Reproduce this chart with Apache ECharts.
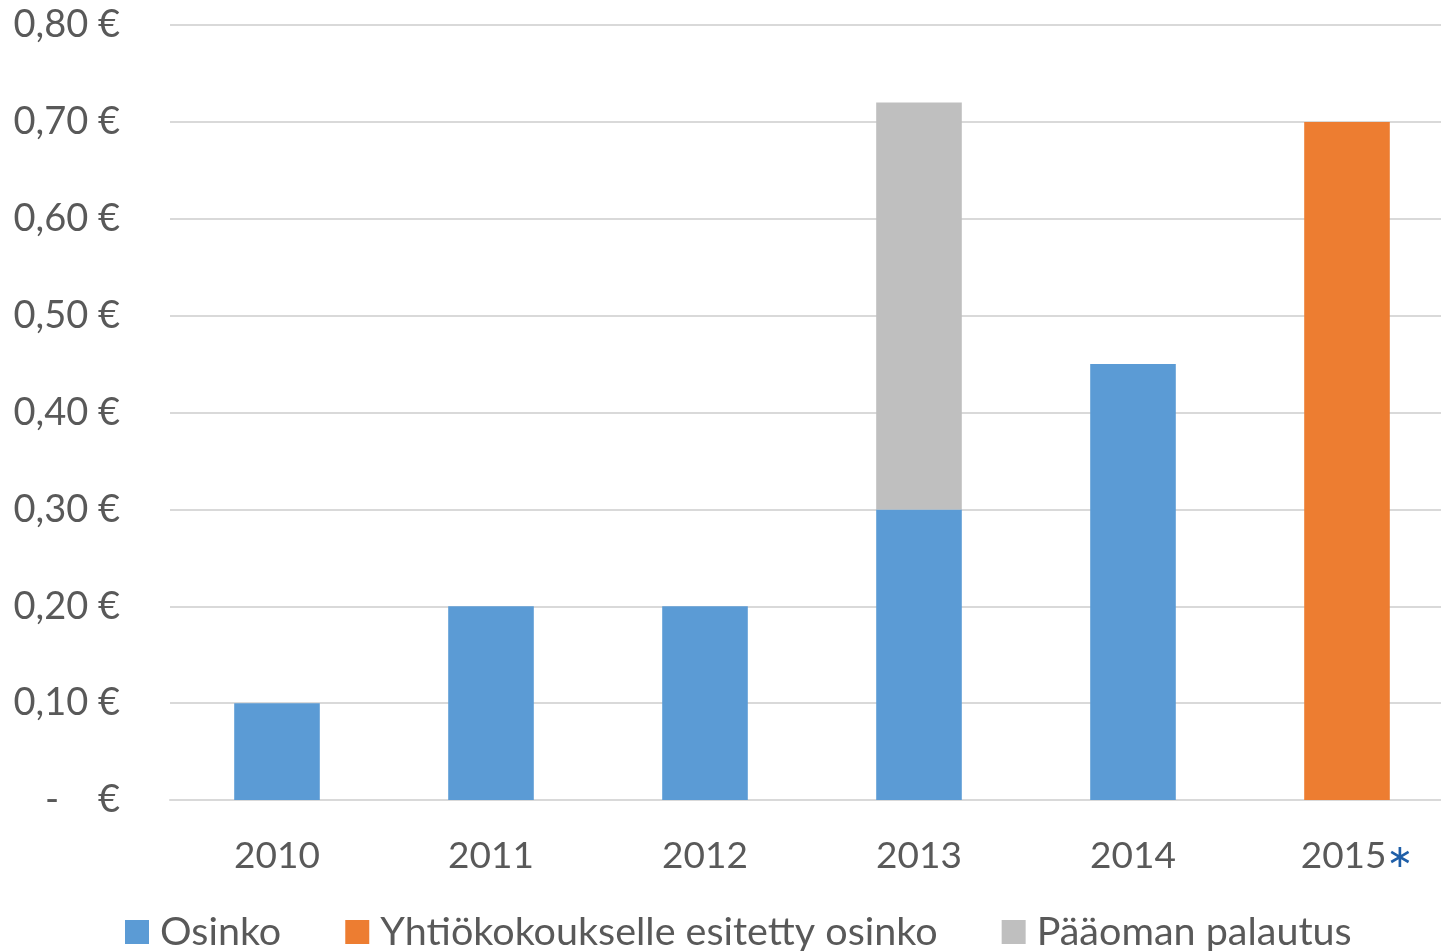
<!DOCTYPE html>
<html><head><meta charset="utf-8">
<script src="https://cdn.jsdelivr.net/npm/echarts@6/dist/echarts.min.js"></script>
<style>html,body{margin:0;padding:0;background:#fff}#c{width:1441px;height:951px}</style>
</head><body><div id="c"></div>
<script>
const categories = ['2010','2011','2012','2013','2014','2015'];
const osinko = [0.10, 0.20, 0.20, 0.30, 0.45, null];
const esitetty = [null, null, null, null, null, 0.70];
const palautus = [null, null, null, 0.42, null, null];
const yTicks = [0, 0.1, 0.2, 0.3, 0.4, 0.5, 0.6, 0.7, 0.8];

const font = 'Lato, "Open Sans", sans-serif';
const chart = echarts.init(document.getElementById('c'));
chart.setOption({
  animation: false,
  textStyle: {fontFamily: font},
  grid: {left: 170, width: 1284, top: 25, bottom: 151, containLabel: false, outerBoundsMode: 'none'},
  xAxis: {
    type: 'category', data: categories,
    axisLine: {lineStyle: {color: '#D9D9D9', width: 2}},
    axisTick: {show: false},
    axisLabel: {
      interval: 0, hideOverlap: false,
      color: '#595959', fontSize: 37, margin: 38, fontFamily: font,
      formatter: v => v === '2015' ? '{p|}{b|' + v + '}{a|\u2217}' : '{b|' + v + '}',
      rich: {
        p: {width: 20},
        b: {color: '#595959', fontSize: 37, fontFamily: font, verticalAlign: 'bottom'},
        a: {color: '#1F5FA8', fontSize: 32, fontFamily: 'DejaVu Sans', verticalAlign: 'bottom'}
      }
    }
  },
  yAxis: {
    type: 'value', min: 0, max: 0.8, interval: 0.1,
    axisLine: {show: false}, axisTick: {show: false},
    splitLine: {lineStyle: {color: '#D9D9D9', width: 2}},
    axisLabel: {
      color: '#595959', fontSize: 38, margin: 50, fontFamily: font,
      formatter: v => Math.abs(v) < 1e-9 ? '-    €' : v.toFixed(2).replace('.', ',') + ' €'
    }
  },
  legend: {
    bottom: -6, left: 120, itemWidth: 24, itemHeight: 24, itemGap: 64,
    icon: 'rect',
    textStyle: {color: '#595959', fontSize: 39.5, fontFamily: font, padding: [0, 0, 0, 6]},
    data: ['Osinko', 'Yhtiökokoukselle esitetty osinko', 'Pääoman palautus']
  },
  series: [
    {name: 'Osinko', type: 'bar', stack: 's', data: osinko, barWidth: '40%', itemStyle: {color: '#5B9BD5'}},
    {name: 'Yhtiökokoukselle esitetty osinko', type: 'bar', stack: 's', data: esitetty, barWidth: '40%', itemStyle: {color: '#ED7D31'}},
    {name: 'Pääoman palautus', type: 'bar', stack: 's', data: palautus, barWidth: '40%', itemStyle: {color: '#BFBFBF'}}
  ]
});
</script></body></html>
